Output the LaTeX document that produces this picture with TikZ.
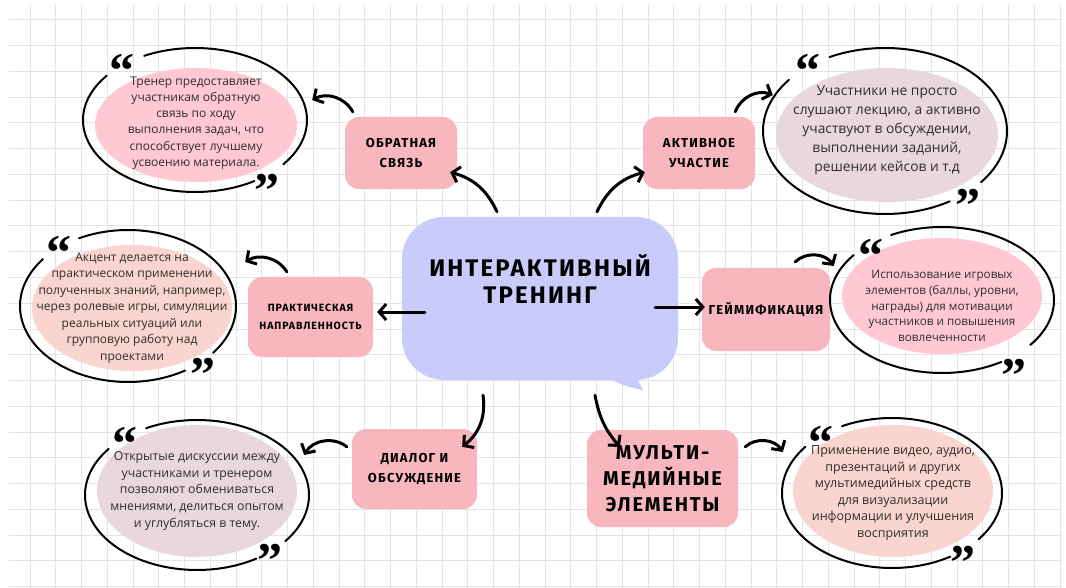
\documentclass[tikz,border=0pt]{standalone}
\usepackage{fontspec}
\setmainfont{Open Sans}
\newfontfamily\headfont{Fira Sans}[LetterSpace=9]
\newfontfamily\quotefont{Liberation Serif}
\usetikzlibrary{arrows.meta,shapes.geometric}
\definecolor{gridgray}{HTML}{E4E4E4}
\definecolor{corebg}{HTML}{C9CCFA}
\definecolor{boxpink}{HTML}{F8B6BF}
\definecolor{notepink}{HTML}{FFC8D2}
\definecolor{notemauve}{HTML}{E8D8DB}
\definecolor{notepeach}{HTML}{FAD4CE}
\definecolor{inkgray}{HTML}{2E2E2E}

% outline round a note, open at the two quote marks
\newcommand{\ring}[5]{%
  \draw[ring] ([shift={(#4pt,#5pt)}]#1.center) ++(142:#2pt and #3pt)
    arc[start angle=142,end angle=302,x radius=#2pt,y radius=#3pt];
  \draw[ring] ([shift={(#4pt,#5pt)}]#1.center) ++(-38:#2pt and #3pt)
    arc[start angle=-38,end angle=117,x radius=#2pt,y radius=#3pt];}
% quote glyph in a box that only holds its ink
\newcommand{\qmark}[1]{\raisebox{-0.38em}[0.3em][0pt]{#1}}

\begin{document}
\begin{tikzpicture}[x=1pt,y=1pt,
  gridline/.style={draw=gridgray,line width=1pt},
  topic/.style={fill=boxpink,rounded corners=14pt,inner sep=0pt,align=center,
    text=black,font={\headfont\bfseries\fontsize{13}{20}\selectfont}},
  note/.style={ellipse,inner sep=0pt},
  notetext/.style={align=center,text=inkgray,inner sep=0pt},
  ring/.style={line width=2pt,line cap=round},
  quot/.style={anchor=north,inner sep=0pt,font={\quotefont\bfseries\fontsize{50}{50}\selectfont}},
  link/.style={line width=3pt,line cap=round,line join=round,
    -{Straight Barb[length=7pt,width=16pt]}}]
\fill[white] (0,0) rectangle (1066,-588);
\useasboundingbox (0,0) rectangle (1066,-588);

% grid
\foreach \k in {0,...,40}{\draw[gridline] ({30+25.75*\k},-5) -- ({30+25.75*\k},-588);}
\foreach \k in {0,...,22}{\draw[gridline] (9,{-20-25.75*\k}) -- (1062,{-20-25.75*\k});}

% centre bubble
\node[fill=corebg,rounded corners=42pt,minimum width=276pt,minimum height=163pt] (core) at (540,-298.5) {};
\fill[corebg] ([shift={(58pt,8pt)}]core.south) to[bend right=10] ([shift={(103pt,-10pt)}]core.south)
  to[bend right=8] ([shift={(90pt,10pt)}]core.south) -- cycle;
\node[align=center,inner sep=0pt,font={\headfont\bfseries\fontsize{24}{27}\selectfont}] (title)
  at ([yshift=20pt]core.center) {ИНТЕРАКТИВНЫЙ\\ТРЕНИНГ};

% topics
\node[topic,minimum width=112pt,minimum height=72pt] (fb) at (401,-153) {ОБРАТНАЯ\\СВЯЗЬ};
\node[topic,minimum width=112pt,minimum height=72pt] (act) at (699,-153) {АКТИВНОЕ\\УЧАСТИЕ};
\node[topic,minimum width=125pt,minimum height=80pt,
  font={\headfont\bfseries\fontsize{10.5}{18}\selectfont}] (prac) at (310.5,-317) {ПРАКТИЧЕСКАЯ\\НАПРАВЛЕННОСТЬ};
\node[topic,minimum width=128pt,minimum height=83pt] (gam) at (766,-309.5) {ГЕЙМИФИКАЦИЯ};
\node[topic,minimum width=125pt,minimum height=80pt] (dia) at (414.5,-469) {ДИАЛОГ И\\ОБСУЖДЕНИЕ};
\node[topic,minimum width=151pt,minimum height=97pt,
  font={\headfont\bfseries\fontsize{20}{26}\selectfont}] (mm) at (662.5,-478.5) {МУЛЬТИ-\\МЕДИЙНЫЕ\\ЭЛЕМЕНТЫ};

% notes
\node[note,fill=notepink,minimum width=202pt,minimum height=114pt] (fbnote) at (196,-125) {};
\node[notetext,font={\fontsize{12}{16.2}\selectfont}] (fbtext) at ([yshift=2pt]fbnote.center)
  {Тренер предоставляет\\участникам обратную\\связь по ходу\\выполнения задач, что\\способствует лучшему\\усвоению материала.};
\node[note,fill=notemauve,minimum width=222pt,minimum height=134pt] (actnote) at (887,-135) {};
\node[notetext,font={\fontsize{13.8}{19}\selectfont}] (acttext) at ([yshift=5pt]actnote.center)
  {Участники не просто\\слушают лекцию, а активно\\участвуют в обсуждении,\\выполнении заданий,\\решении кейсов и т.д};
\node[note,fill=notepeach,minimum width=200pt,minimum height=126pt] (pracnote) at (132,-308) {};
\node[notetext,font={\fontsize{12}{16.5}\selectfont}] (practext) at (pracnote.center)
  {Акцент делается на\\практическом применении\\полученных знаний, например,\\через ролевые игры, симуляции\\реальных ситуаций или\\групповую работу над\\проектами};
\node[note,fill=notepink,minimum width=200pt,minimum height=116pt] (gamnote) at (942,-296) {};
\node[notetext,font={\fontsize{11.7}{15.75}\selectfont}] (gamtext) at ([yshift=-10pt]gamnote.center)
  {Использование игровых\\элементов (баллы, уровни,\\награды) для мотивации\\участников и повышения\\вовлеченности};
\node[note,fill=notemauve,minimum width=200pt,minimum height=132pt] (dianote) at (197,-491) {};
\node[notetext,font={\fontsize{12.3}{16.75}\selectfont}] (diatext) at (dianote.center)
  {Открытые дискуссии между\\участниками и тренером\\позволяют обмениваться\\мнениями, делиться опытом\\и углубляться в тему.};
\node[note,fill=notepeach,minimum width=200pt,minimum height=132pt] (mmnote) at (893,-491) {};
\node[notetext,font={\fontsize{12.5}{16.6}\selectfont}] (mmtext) at ([yshift=-2pt]mmnote.center)
  {Применение видео, аудио,\\презентаций и других\\мультимедийных средств\\для визуализации\\информации и улучшения\\восприятия};

% outlines
\ring{fbnote}{112}{72}{-1}{5}
\ring{actnote}{122}{83}{-2}{4}
\ring{pracnote}{108}{76}{-4}{2}
\ring{gamnote}{112}{73}{0}{-4}
\ring{dianote}{112}{75}{0}{-4}
\ring{mmnote}{110}{75}{-1}{-2}

% quote marks
\node[quot] (fbq1) at (122,-53) {\qmark{“}};   \node[quot] (fbq2) at (267,-173) {\qmark{”}};
\node[quot] (actq1) at (808,-53) {\qmark{“}};  \node[quot] (actq2) at (968,-188) {\qmark{”}};
\node[quot] (pracq1) at (59,-235) {\qmark{“}}; \node[quot] (pracq2) at (203,-357) {\qmark{”}};
\node[quot] (gamq1) at (871,-238) {\qmark{“}}; \node[quot] (gamq2) at (1014,-358) {\qmark{”}};
\node[quot] (diaq1) at (125,-426) {\qmark{“}}; \node[quot] (diaq2) at (270,-543) {\qmark{”}};
\node[quot] (mmq1) at (821,-425) {\qmark{“}};  \node[quot] (mmq2) at (963,-545) {\qmark{”}};

% arrows from the centre
\draw[link] ([xshift=-43pt,yshift=5pt]core.north) to[bend right=25] ([xshift=-7pt,yshift=17pt]fb.south east);
\draw[link] ([xshift=57pt,yshift=5pt]core.north) to[bend left=25] ([xshift=2pt,yshift=17pt]act.south west);
\draw[link] ([xshift=23pt,yshift=-13.5pt]core.west) -- ([xshift=4pt,yshift=5pt]prac.east);
\draw[link] ([xshift=-23pt,yshift=-8.5pt]core.east) -- ([xshift=3pt,yshift=2.5pt]gam.west);
\draw[link] ([xshift=-57pt,yshift=-15pt]core.south) to[bend left=30] ([xshift=-15pt,yshift=-18pt]dia.north east);
\draw[link] ([xshift=55pt,yshift=-15pt]core.south) to[bend right=15] ([xshift=33pt,yshift=-17pt]mm.north west);

% arrows to the notes
\draw[link] ([xshift=8pt,yshift=5pt]fb.north west) to[bend right=45] ([xshift=15pt,yshift=25pt]fbnote.east);
\draw[link] ([xshift=-20pt,yshift=5pt]act.north east) to[bend left=45] ([xshift=-3pt,yshift=40pt]actnote.west);
\draw[link] ([xshift=39pt,yshift=5pt]prac.north west) to[bend right=45] ([xshift=13pt,yshift=46pt]pracnote.east);
\draw[link] ([xshift=-35pt,yshift=6pt]gam.north east) to[bend left=50] ([xshift=-8pt,yshift=30pt]gamnote.west);
\draw[link] ([xshift=-5pt,yshift=-18pt]dia.north west) to[bend right=50] ([xshift=7pt,yshift=36pt]dianote.east);
\draw[link] ([xshift=7pt,yshift=-17pt]mm.north east) to[bend left=50] ([xshift=-10pt,yshift=39pt]mmnote.west);
\end{tikzpicture}
\end{document}
